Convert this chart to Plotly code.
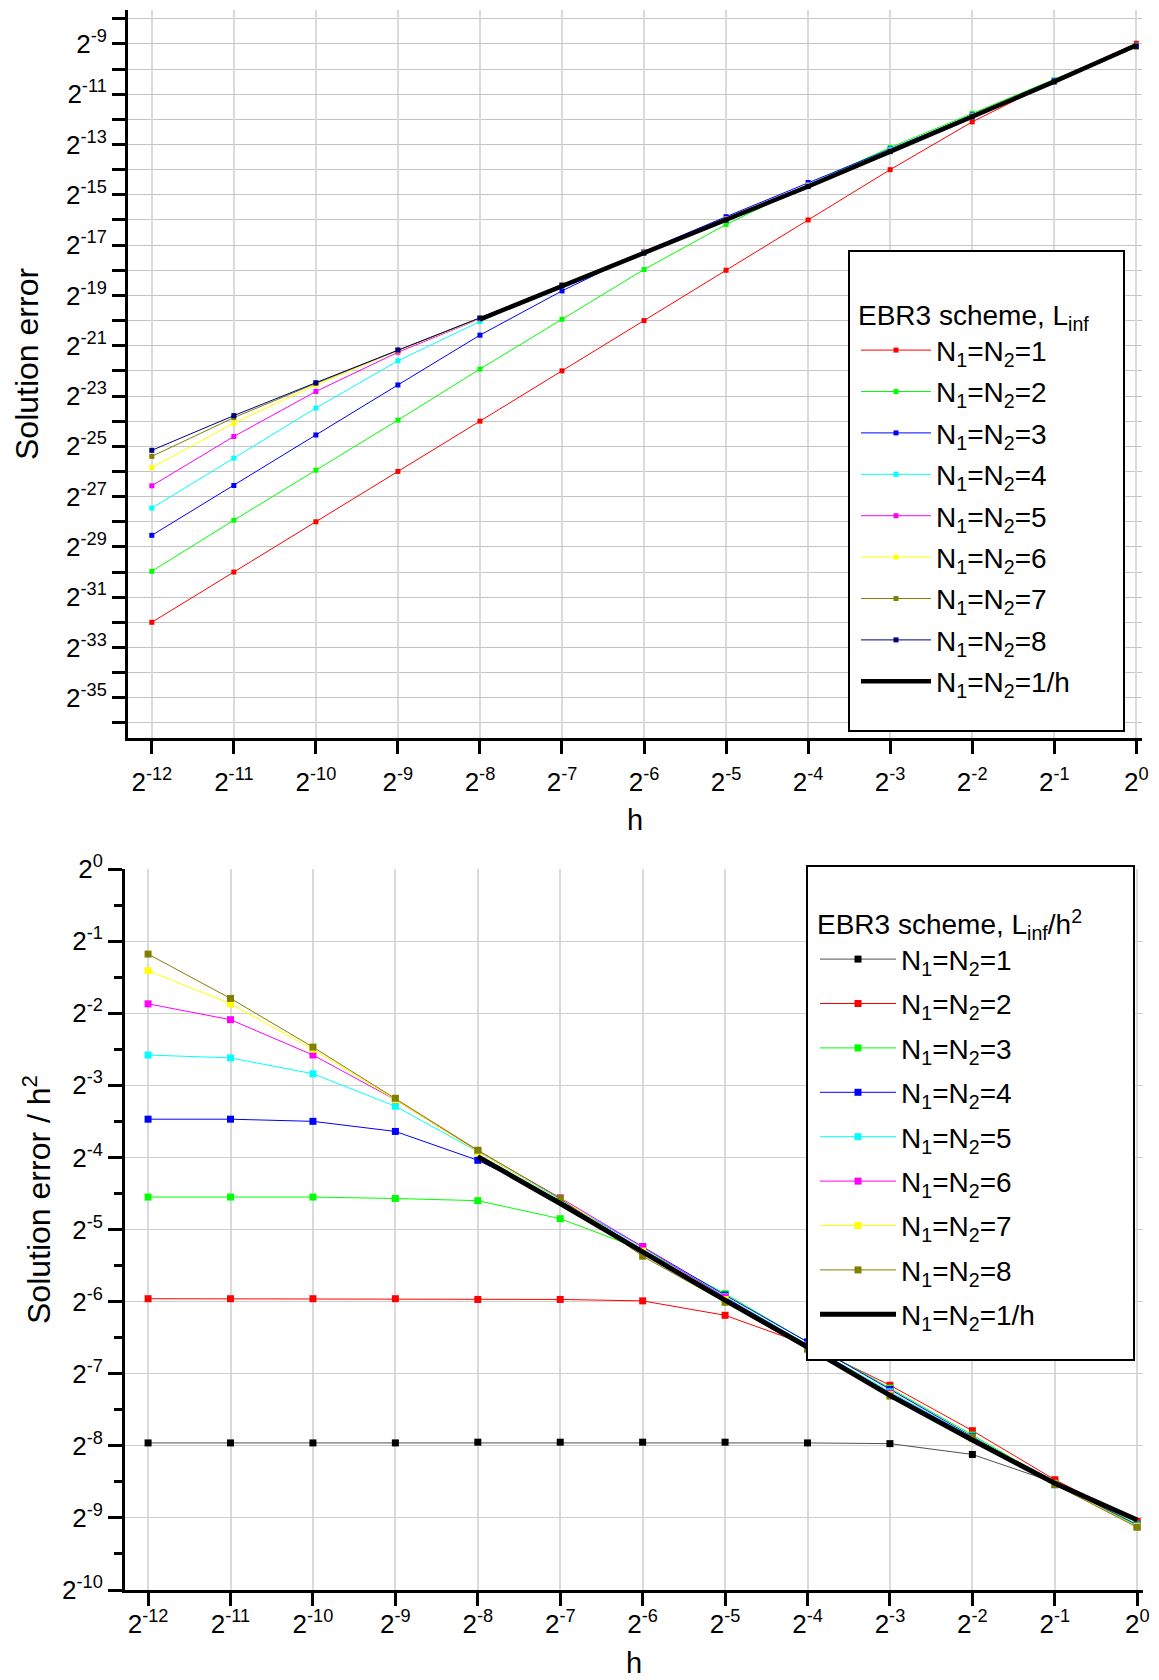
import numpy as np
import plotly.graph_objects as go

W, H = 1159, 1680
FONT = "Arial, Liberation Sans, sans-serif"

# ---------------- data (log2 exponents) ----------------
h_exp = list(range(-12, 1))          # h = 2^-12 ... 2^0
h_exp_fine = list(range(-8, 1))      # N1=N2=1/h curve, h = 2^-8 ... 2^0

# Top chart: L_inf error (log2)
top_n1 = [-32.0, -30.0, -28.0, -26.0, -24.0, -22.0, -20.0, -18.0, -16.0, -14.0, -12.1, -10.47, -8.97]
top_n2 = [-29.97, -27.94, -25.95, -23.96, -21.93, -19.95, -17.97, -16.18, -14.6, -13.12, -11.76, -10.43, -9.05]
top_n3 = [-28.54, -26.56, -24.55, -22.56, -20.58, -18.82, -17.25, -15.87, -14.51, -13.18, -11.83, -10.45, -9.08]
top_n4 = [-27.46, -25.47, -23.48, -21.6, -20.04, -18.6, -17.28, -15.95, -14.6, -13.2, -11.85, -10.48, -9.1]
top_n5 = [-26.57, -24.61, -22.82, -21.26, -19.93, -18.58, -17.26, -15.95, -14.62, -13.25, -11.87, -10.5, -9.1]
top_n6 = [-25.85, -24.08, -22.56, -21.2, -19.92, -18.57, -17.28, -15.97, -14.65, -13.27, -11.88, -10.5, -9.12]
top_n7 = [-25.4, -23.86, -22.5, -21.18, -19.9, -18.58, -17.3, -16.0, -14.67, -13.28, -11.89, -10.52, -9.13]
top_n8 = [-25.16, -23.78, -22.47, -21.17, -19.9, -18.6, -17.32, -16.0, -14.67, -13.28, -11.9, -10.5, -9.1]
top_inv_h = [-19.95, -18.62, -17.32, -16.0, -14.67, -13.28, -11.9, -10.5, -9.05]

# Bottom chart: L_inf / h^2 (log2)
bot_n1 = [-7.96, -7.96, -7.96, -7.96, -7.95, -7.95, -7.95, -7.95, -7.96, -7.97, -8.12, -8.51, -9.12]
bot_n2 = [-5.96, -5.96, -5.96, -5.96, -5.97, -5.97, -5.99, -6.19, -6.6, -7.16, -7.79, -8.47, -9.05]
bot_n3 = [-4.55, -4.55, -4.55, -4.57, -4.6, -4.85, -5.28, -5.89, -6.56, -7.2, -7.85, -8.52, -9.09]
bot_n4 = [-3.47, -3.47, -3.5, -3.64, -4.04, -4.6, -5.24, -5.91, -6.56, -7.22, -7.87, -8.53, -9.1]
bot_n5 = [-2.58, -2.62, -2.84, -3.29, -3.92, -4.58, -5.25, -5.93, -6.6, -7.25, -7.88, -8.54, -9.11]
bot_n6 = [-1.87, -2.09, -2.58, -3.2, -3.91, -4.56, -5.24, -5.94, -6.61, -7.27, -7.89, -8.53, -9.12]
bot_n7 = [-1.41, -1.87, -2.5, -3.2, -3.92, -4.57, -5.3, -5.97, -6.64, -7.29, -7.9, -8.53, -9.12]
bot_n8 = [-1.18, -1.795, -2.47, -3.18, -3.9, -4.57, -5.37, -6.01, -6.66, -7.31, -7.89, -8.54, -9.13]
bot_inv_h = [-3.99, -4.64, -5.31, -5.98, -6.63, -7.3, -7.92, -8.52, -9.03]

labels = ["N<sub>1</sub>=N<sub>2</sub>=%d" % k for k in range(1, 9)]
label_inv = "N<sub>1</sub>=N<sub>2</sub>=1/h"

top_colors = ["#FF0000", "#00FF00", "#0000FF", "#00FFFF", "#FF00FF", "#FFFF00", "#808000", "#000080"]
bot_colors = ["#000000", "#FF0000", "#00FF00", "#0000FF", "#00FFFF", "#FF00FF", "#FFFF00", "#808000"]
bot_line_colors = ["#505050", "#FF0000", "#00FF00", "#0000FF", "#00FFFF", "#FF00FF", "#FFFF00", "#808000"]

# ---------------- figure ----------------
p2 = lambda e: [2.0 ** v for v in e]
hx = p2(h_exp)
hxf = p2(h_exp_fine)

fig = go.Figure()

top_series = [top_n1, top_n2, top_n3, top_n4, top_n5, top_n6, top_n7, top_n8]
for i, s in enumerate(top_series):
    fig.add_trace(go.Scatter(x=hx, y=p2(s), mode="lines+markers", name=labels[i],
                             line=dict(color=top_colors[i], width=1),
                             marker=dict(symbol="square", size=5, color=top_colors[i]),
                             xaxis="x", yaxis="y", legend="legend", legendgroup="t%d" % i))
fig.add_trace(go.Scatter(x=hxf, y=p2(top_inv_h), mode="lines", name=label_inv,
                         line=dict(color="#000000", width=4.5),
                         xaxis="x", yaxis="y", legend="legend", legendgroup="t9"))

bot_series = [bot_n1, bot_n2, bot_n3, bot_n4, bot_n5, bot_n6, bot_n7, bot_n8]
for i, s in enumerate(bot_series):
    fig.add_trace(go.Scatter(x=hx, y=p2(s), mode="lines+markers", name=labels[i],
                             line=dict(color=bot_line_colors[i], width=1),
                             marker=dict(symbol="square", size=7, color=bot_colors[i]),
                             xaxis="x2", yaxis="y2", legend="legend2", legendgroup="b%d" % i))
fig.add_trace(go.Scatter(x=hxf, y=p2(bot_inv_h), mode="lines", name=label_inv,
                         line=dict(color="#000000", width=5),
                         xaxis="x2", yaxis="y2", legend="legend2", legendgroup="b9"))

L2 = np.log10(2.0)
px = lambda v: v / W
py = lambda v: 1 - v / H

sup = lambda k: "2<sup>%d</sup>" % k

axis_common = dict(type="log", showline=True, linecolor="black", linewidth=3,
                   ticks="outside", tickwidth=3, tickcolor="black", ticklen=13,
                   showgrid=True, zeroline=False, mirror=False, automargin=False,
                   tickfont=dict(family=FONT, size=26, color="black"))

x_ticks = h_exp
fig.update_layout(
    xaxis=dict(axis_common, domain=[px(128), px(1142)], anchor="y",
               range=[-12.29 * L2, 0.07 * L2], ticklabelstandoff=6,
               tickmode="array", tickvals=p2(x_ticks), ticktext=[sup(k) for k in x_ticks],
               gridcolor="#dadada", gridwidth=1.5),
    yaxis=dict(axis_common, domain=[py(738), py(10)], anchor="x",
               range=[-36.6 * L2, -7.65 * L2],
               tickmode="array", tickvals=p2(list(range(-9, -36, -2))),
               ticktext=[sup(k) for k in range(-9, -36, -2)],
               gridcolor="#c4c4c4", gridwidth=1,
               minor=dict(tickvals=p2(list(range(-8, -37, -2))), ticks="outside", ticklen=13,
                          tickwidth=3, tickcolor="black", showgrid=True,
                          gridcolor="#c4c4c4", gridwidth=1)),
    xaxis2=dict(axis_common, domain=[px(125), px(1143)], anchor="y2",
                range=[-12.28 * L2, 0.07 * L2], ticklabelstandoff=-4,
                tickmode="array", tickvals=p2(x_ticks), ticktext=[sup(k) for k in x_ticks],
                gridcolor="#dadada", gridwidth=1.5),
    yaxis2=dict(axis_common, domain=[py(1590), py(869)], anchor="x2",
                range=[-10 * L2, 0],
                tickmode="array", tickvals=p2(list(range(0, -11, -1))),
                ticktext=[sup(k) for k in range(0, -11, -1)],
                ticklen=14,
                gridcolor="#cfcfcf", gridwidth=1,
                minor=dict(tickvals=[2.0 ** (k - 0.5) for k in range(0, -10, -1)], ticks="outside",
                           ticklen=8, tickwidth=3, tickcolor="black", showgrid=False)),
)

legend_common = dict(xanchor="left", yanchor="top", bgcolor="rgba(0,0,0,0)", borderwidth=0,
                     font=dict(family=FONT, size=28, color="black"),
                     traceorder="grouped")
fig.update_layout(
    legend=dict(legend_common, x=px(856), y=py(289), tracegroupgap=2, itemwidth=70,
                title=dict(text="EBR3 scheme, L<sub>inf</sub>", font=dict(family=FONT, size=28))),
    legend2=dict(legend_common, x=px(815), y=py(898), tracegroupgap=5, itemwidth=76,
                 title=dict(text="EBR3 scheme, L<sub>inf</sub>/h<sup>2</sup>",
                            font=dict(family=FONT, size=28))),
)

# legend frames
fig.add_shape(type="rect", xref="paper", yref="paper", layer="above",
              x0=px(849), x1=px(1124), y0=py(731), y1=py(251),
              line=dict(color="black", width=2), fillcolor="white")
fig.add_shape(type="rect", xref="paper", yref="paper", layer="above",
              x0=px(807), x1=px(1134), y0=py(1360), y1=py(866),
              line=dict(color="black", width=2), fillcolor="white")

# axis titles
ann = [
    dict(text="Solution error", x=px(27), y=py(364), textangle=-90, size=32),
    dict(text="h", x=px(635), y=py(820), textangle=0, size=29),
    dict(text="Solution error / h<sup>2</sup>", x=px(37), y=py(1200), textangle=-90, size=32),
    dict(text="h", x=px(634), y=py(1663), textangle=0, size=29),
]
for a in ann:
    fig.add_annotation(text=a["text"], x=a["x"], y=a["y"], xref="paper", yref="paper",
                       showarrow=False, textangle=a["textangle"], xanchor="center", yanchor="middle",
                       font=dict(family=FONT, size=a["size"], color="black"))

fig.update_layout(width=W, height=H, margin=dict(l=0, r=0, t=0, b=0, autoexpand=False),
                  paper_bgcolor="white", plot_bgcolor="white", showlegend=True)

fig.write_html("out.html", config={"displayModeBar": False},
               post_script="document.body.style.margin='0px';document.body.style.overflow='hidden';")
